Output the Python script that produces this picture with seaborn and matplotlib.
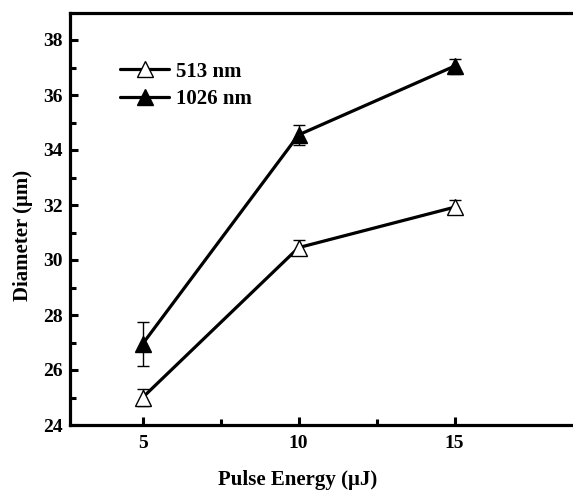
import numpy as np
import pandas as pd
import matplotlib
matplotlib.use("Agg")
import matplotlib.pyplot as plt
from matplotlib.ticker import FixedLocator
import seaborn as sns

# Measured spot diameters versus pulse energy
pulse_energy = [5, 10, 15]
diam_513 = [25.0, 30.45, 31.92]
err_513 = [0.3, 0.28, 0.25]
diam_1026 = [26.95, 34.55, 37.05]
err_1026 = [0.8, 0.35, 0.27]
series_labels = ["513 nm", "1026 nm"]

df = pd.DataFrame({
    "energy": pulse_energy * 2,
    "diameter": diam_513 + diam_1026,
    "err": err_513 + err_1026,
    "series": [series_labels[0]] * 3 + [series_labels[1]] * 3,
})

sns.set_theme(style="ticks")
plt.rcParams["font.family"] = ["Liberation Serif", "DejaVu Serif"]
plt.rcParams["font.weight"] = "bold"
plt.rcParams["text.color"] = "black"
plt.rcParams["axes.labelcolor"] = "black"
plt.rcParams["xtick.color"] = "black"
plt.rcParams["ytick.color"] = "black"

fig = plt.figure(figsize=(5.73, 4.92), dpi=100)
ax = fig.add_axes([70 / 573, 67 / 492, 503 / 573, 412.5 / 492])

sns.lineplot(data=df, x="energy", y="diameter", hue="series", style="series",
             palette=["black", "black"], markers=["^", "^"], dashes=False,
             linewidth=2.3, markersize=12, markeredgewidth=1.0,
             ax=ax, zorder=3, legend=False)

# open triangles for 513 nm, filled for 1026 nm
series_lines = list(ax.get_lines())
series_lines[0].set_markerfacecolor("white")
series_lines[0].set_markeredgecolor("black")
series_lines[1].set_markerfacecolor("black")
series_lines[1].set_markeredgecolor("black")

# thin error bars beneath the markers
for lab in series_labels:
    sub = df[df["series"] == lab]
    ax.errorbar(sub["energy"], sub["diameter"], yerr=sub["err"], fmt="none",
                ecolor="black", elinewidth=1.0, capsize=4.5, capthick=1.0, zorder=2)

ax.set_xlim(2.67, 18.8)
ax.set_ylim(24, 39)
ax.xaxis.set_major_locator(FixedLocator([5, 10, 15]))
ax.xaxis.set_minor_locator(FixedLocator([7.5, 12.5]))
ax.yaxis.set_major_locator(FixedLocator([24, 26, 28, 30, 32, 34, 36, 38]))
ax.yaxis.set_minor_locator(FixedLocator([25, 27, 29, 31, 33, 35, 37]))

ax.tick_params(which="both", direction="in", width=2.2, colors="black",
               labelsize=14)
ax.tick_params(which="major", length=6)
ax.tick_params(which="minor", length=4)
ax.tick_params(axis="x", which="major", pad=7)
ax.tick_params(axis="y", which="major", pad=5)
for t in ax.get_xticklabels() + ax.get_yticklabels():
    t.set_fontweight("bold")

for side in ["left", "bottom", "top"]:
    ax.spines[side].set_linewidth(2.3)
    ax.spines[side].set_color("black")
ax.spines["right"].set_visible(False)

ax.set_xlabel("Pulse Energy (\u03bcJ)", fontsize=15, fontweight="bold", va="center")
ax.set_ylabel("Diameter (\u03bcm)", fontsize=15, fontweight="bold", va="center")
ax.xaxis.set_label_coords(0.453, -0.133)
ax.yaxis.set_label_coords(-0.093, 0.46)

leg = ax.legend(series_lines[:2], series_labels, loc="upper left",
                bbox_to_anchor=(0.1, 0.881), frameon=False, borderpad=0,
                borderaxespad=0, handlelength=2.35, handletextpad=0.3,
                labelspacing=0.35, prop={"size": 15, "weight": "bold"})

fig.savefig("out.png", dpi=100)
